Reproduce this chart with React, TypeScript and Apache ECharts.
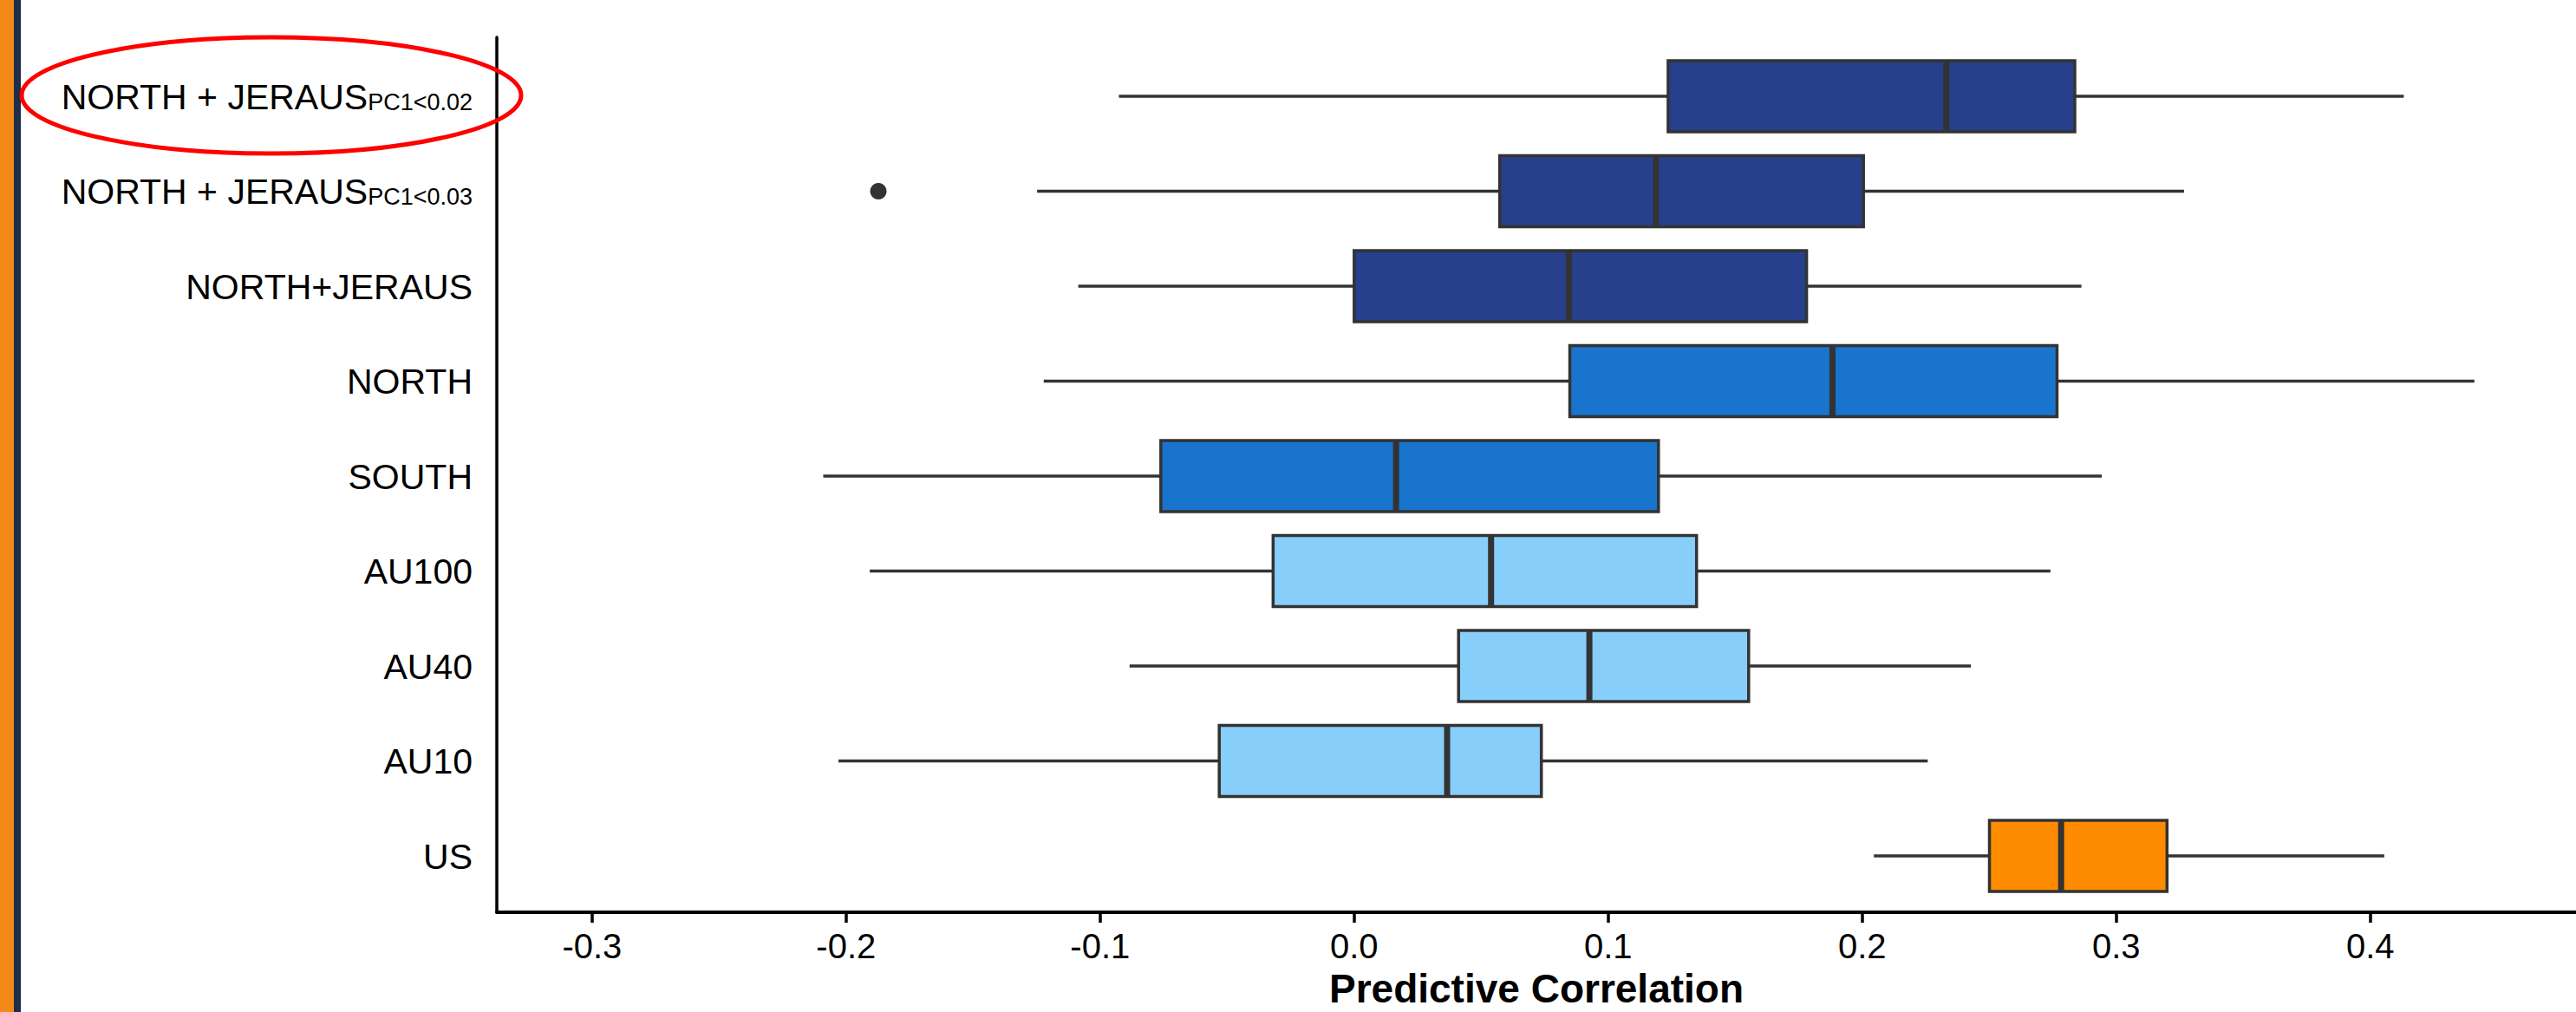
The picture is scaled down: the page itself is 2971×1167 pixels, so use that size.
import React, { useEffect, useRef } from "react";
import * as echarts from "echarts";

// ---- data (top to bottom) ----
const categoryMain = [
  "NORTH + JERAUS",
  "NORTH + JERAUS",
  "NORTH+JERAUS",
  "NORTH",
  "SOUTH",
  "AU100",
  "AU40",
  "AU10",
  "US",
];
const categorySub = ["PC1<0.02", "PC1<0.03", "", "", "", "", "", "", ""];
const whiskerLow = [-0.0926, -0.1248, -0.1086, -0.1222, -0.209, -0.1907, -0.0884, -0.203, 0.2046];
const quartile1 = [0.1236, 0.0573, 0.0, 0.0849, -0.0761, -0.0319, 0.0411, -0.0531, 0.2501];
const medians = [0.2331, 0.1188, 0.0845, 0.1883, 0.0165, 0.0539, 0.0926, 0.0366, 0.2783];
const quartile3 = [0.2837, 0.2005, 0.1781, 0.2767, 0.1198, 0.1348, 0.1553, 0.0737, 0.32];
const whiskerHigh = [0.4132, 0.3267, 0.2863, 0.441, 0.2943, 0.2741, 0.2428, 0.2258, 0.4055];
const fillColors = [
  "#27408B", "#27408B", "#27408B",
  "#1874CD", "#1874CD",
  "#87CEFA", "#87CEFA", "#87CEFA",
  "#FF8C00",
];
const outliers: [number, number][] = [[-0.1873, 1]];
const xTicks = [-0.3, -0.2, -0.1, 0.0, 0.1, 0.2, 0.3, 0.4];
const X_MIN = -0.3375;
const X_MAX = 0.481;

const categoryKeys = categoryMain.map((m, i) => m + (categorySub[i] ? "_" + categorySub[i] : ""));

const FONT = "'Liberation Sans', Arial, Helvetica, sans-serif";

export default function App() {
  const ref = useRef<HTMLDivElement>(null);

  useEffect(() => {
    if (!ref.current) return;
    const chart = echarts.init(ref.current, undefined, { renderer: "svg" });

    const boxData = categoryMain.map((_, i) => [
      i,
      whiskerLow[i],
      quartile1[i],
      medians[i],
      quartile3[i],
      whiskerHigh[i],
    ]);

    const option: any = {
      animation: false,
      backgroundColor: "#ffffff",
      grid: [
        {
          left: 573, right: 0, top: 56.25, height: 985.5,
          containLabel: false, outerBoundsMode: "none",
        },
        {
          left: 573, right: 0, top: 43, bottom: 115,
          containLabel: false, outerBoundsMode: "none",
        },
      ],
      xAxis: [
        {
          gridIndex: 0,
          type: "value",
          min: X_MIN,
          max: X_MAX,
          show: false,
          splitLine: { show: false },
        },
        {
          gridIndex: 1,
          type: "value",
          min: X_MIN,
          max: X_MAX,
          position: "bottom",
          axisLine: { show: true, onZero: false, lineStyle: { color: "#000", width: 4 } },
          axisTick: {
            show: true,
            length: 12,
            customValues: xTicks,
            lineStyle: { color: "#000", width: 3.5 },
          },
          axisLabel: {
            show: true,
            customValues: xTicks,
            formatter: (v: number) => v.toFixed(1),
            fontFamily: FONT,
            fontSize: 40,
            color: "#000",
            margin: 19,
          },
          splitLine: { show: false },
          name: "Predictive Correlation",
          nameLocation: "middle",
          nameGap: 65,
          nameMoveOverlap: false,
          nameTextStyle: {
            fontFamily: FONT,
            fontSize: 46,
            lineHeight: 46,
            fontWeight: "bold",
            color: "#000",
          },
        },
      ],
      yAxis: [
        {
          gridIndex: 0,
          type: "category",
          inverse: true,
          data: categoryKeys,
          axisLine: { show: false },
          axisTick: { show: false },
          splitLine: { show: false },
          axisLabel: {
            show: true,
            margin: 28,
            interval: 0,
            formatter: (_: string, index: number) =>
              categorySub[index]
                ? `{a|${categoryMain[index]}}{b|${categorySub[index]}}`
                : `{a|${categoryMain[index]}}`,
            rich: {
              a: {
                fontFamily: FONT,
                fontSize: 41,
                lineHeight: 40,
                color: "#000",
                verticalAlign: "top",
              },
              b: {
                fontFamily: FONT,
                fontSize: 27,
                lineHeight: 15,
                color: "#000",
                verticalAlign: "bottom",
              },
            },
          },
        },
        {
          gridIndex: 1,
          type: "value",
          min: 0,
          max: 1,
          axisLine: { show: true, onZero: false, lineStyle: { color: "#000", width: 3.5 } },
          axisTick: { show: false },
          axisLabel: { show: false },
          splitLine: { show: false },
        },
      ],
      series: [
        {
          type: "custom",
          xAxisIndex: 0,
          yAxisIndex: 0,
          encode: { x: [1, 2, 3, 4, 5], y: 0 },
          data: boxData,
          clip: false,
          renderItem: (params: any, api: any) => {
            const cat = api.value(0);
            const pLow = api.coord([api.value(1), cat]);
            const pQ1 = api.coord([api.value(2), cat]);
            const pMed = api.coord([api.value(3), cat]);
            const pQ3 = api.coord([api.value(4), cat]);
            const pHigh = api.coord([api.value(5), cat]);
            const band = api.size([0, 1])[1];
            const h = band * 0.75;
            const cy = pQ1[1];
            const top = cy - h / 2;
            const stroke = "#333333";
            return {
              type: "group",
              children: [
                {
                  type: "line",
                  shape: { x1: pLow[0], y1: cy, x2: pQ1[0], y2: cy },
                  style: { stroke, lineWidth: 3.5 },
                },
                {
                  type: "line",
                  shape: { x1: pQ3[0], y1: cy, x2: pHigh[0], y2: cy },
                  style: { stroke, lineWidth: 3.5 },
                },
                {
                  type: "rect",
                  shape: { x: pQ1[0], y: top, width: pQ3[0] - pQ1[0], height: h },
                  style: { fill: fillColors[params.dataIndex], stroke, lineWidth: 3.5 },
                },
                {
                  type: "line",
                  shape: { x1: pMed[0], y1: top, x2: pMed[0], y2: top + h },
                  style: { stroke, lineWidth: 7 },
                },
              ],
            };
          },
        },
        {
          type: "scatter",
          xAxisIndex: 0,
          yAxisIndex: 0,
          data: outliers,
          symbol: "circle",
          symbolSize: 19,
          itemStyle: { color: "#333333", opacity: 1 },
        },
      ],
      graphic: [
        {
          type: "rect",
          shape: { x: 0, y: 0, width: 16, height: 1167 },
          style: { fill: "#F28A1A" },
        },
        {
          type: "rect",
          shape: { x: 16, y: 0, width: 8, height: 1167 },
          style: { fill: "#1E2D48" },
        },
        {
          type: "ellipse",
          shape: { cx: 313, cy: 110, rx: 288, ry: 67 },
          style: { fill: "none", stroke: "#FF0000", lineWidth: 5 },
          z: 100,
        },
      ],
    };

    chart.setOption(option);
    return () => chart.dispose();
  }, []);

  return (
    <div
      ref={ref}
      style={{ position: "fixed", left: 0, top: 0, width: 2971, height: 1167, background: "#fff" }}
    />
  );
}
